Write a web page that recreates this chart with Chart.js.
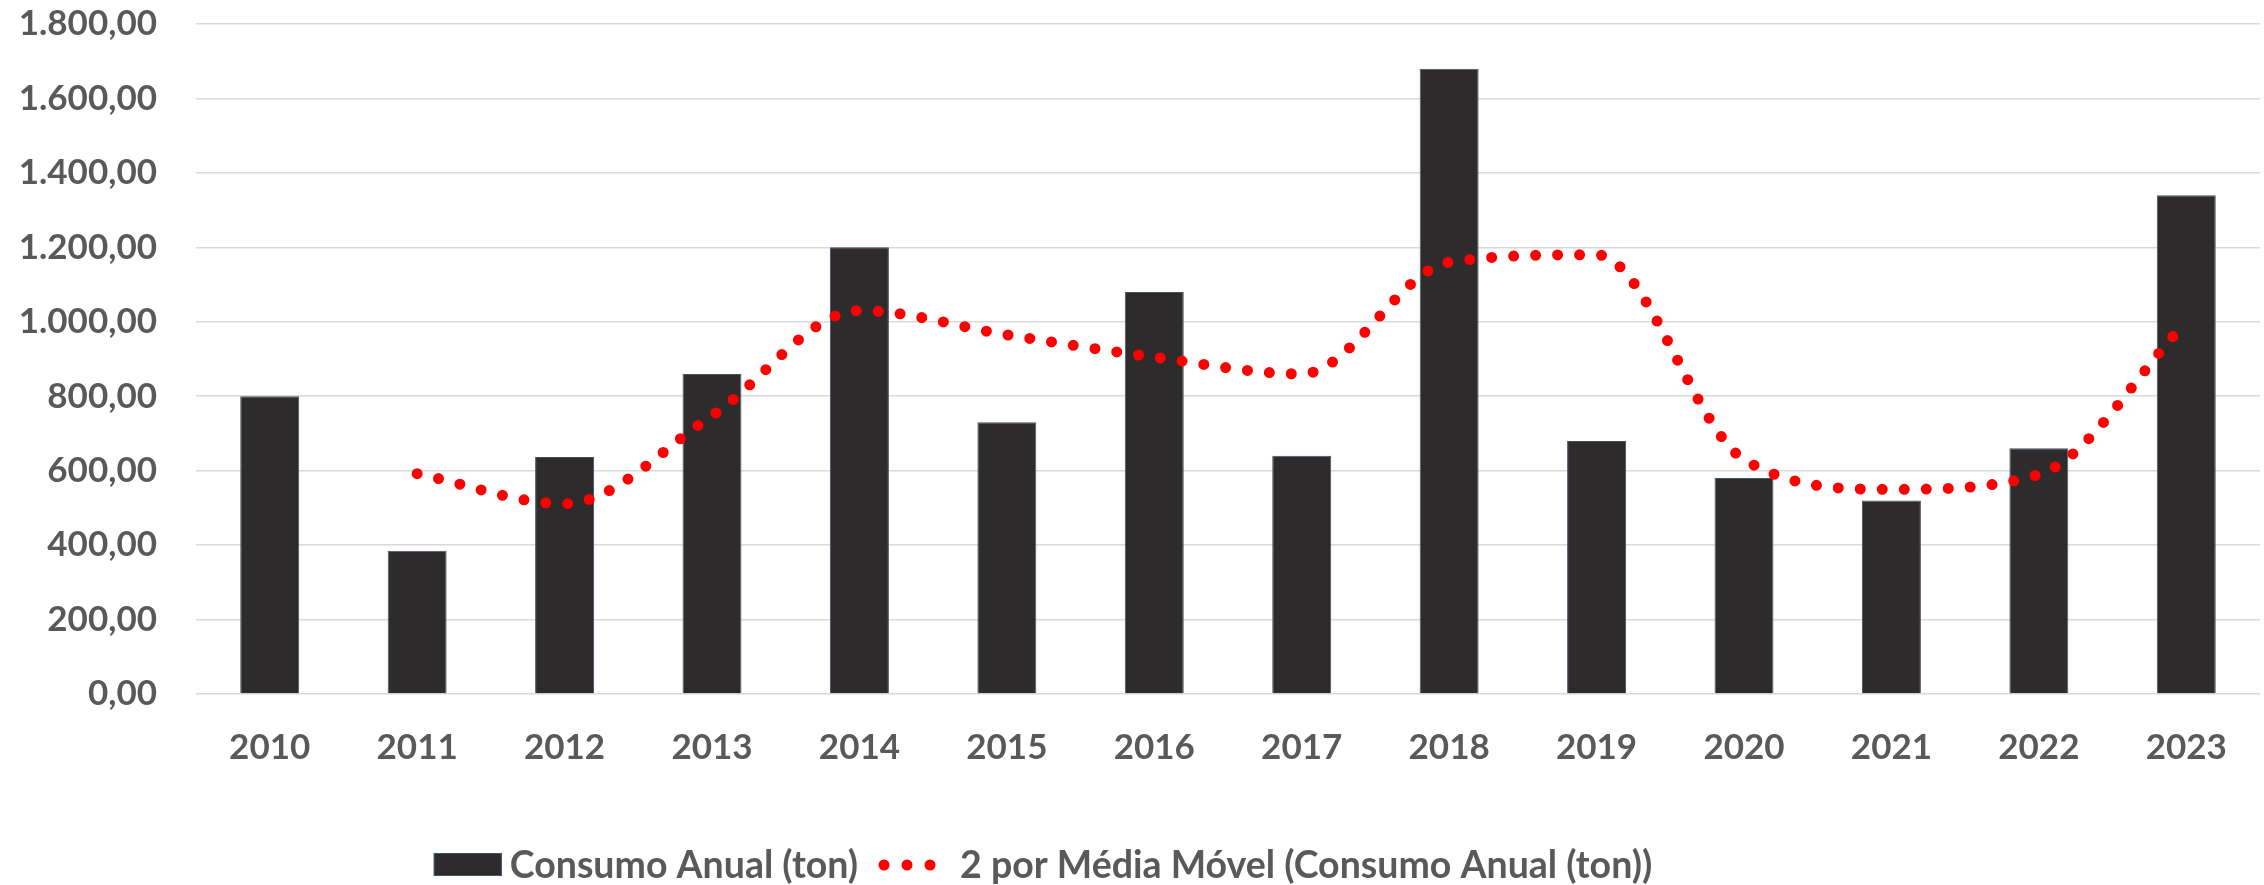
<!DOCTYPE html>
<html>
<head>
<meta charset="utf-8">
<script src="https://cdn.jsdelivr.net/npm/chart.js@4/dist/chart.umd.min.js"></script>
<style>
  html, body { margin: 0; padding: 0; background: #fff; }
  #wrap { width: 2264px; height: 885px; }
</style>
</head>
<body>
<div id="wrap"><canvas id="grafico" width="2264" height="885"></canvas></div>
<script>
// dados
const anos = ['2010', '2011', '2012', '2013', '2014', '2015', '2016', '2017', '2018', '2019', '2020', '2021', '2022', '2023'];
const consumoAnual = [800, 385, 637, 860, 1200, 730, 1080, 640, 1680, 680, 580, 520, 660, 1340];
const mediaMovel = [null, 592, 511, 748, 1030, 965, 905, 860, 1160, 1180, 630, 550, 590, 1000];
const rotulos = ['Consumo Anual (ton)', '2 por Média Móvel (Consumo Anual (ton))'];

const corTexto = '#595959';
const fonte = 'Lato, "Open Sans", sans-serif';

// 1800 -> "1.800,00"
function formataBR(v) {
    const partes = Number(v).toFixed(2).split('.');
    const inteiro = partes[0].replace(/\B(?=(\d{3})+(?!\d))/g, '.');
    return inteiro + ',' + partes[1];
}

// legenda desenhada à mão, igual à do Excel
const legendaExcel = {
    id: 'legendaExcel',
    afterDraw(chart) {
        const ctx = chart.ctx;
        const barras = chart.data.datasets.find(d => d.type === 'bar');
        const linha = chart.data.datasets.find(d => d.type === 'line');
        ctx.save();
        ctx.font = 'bold 37.5px ' + fonte;
        ctx.textBaseline = 'middle';
        const y = 865;
        const caixaW = 68, gap1 = 8, gap2 = 26, pontosW = 46, gap3 = 30;
        const w1 = ctx.measureText(barras.label).width;
        const w2 = ctx.measureText(linha.label).width;
        const total = caixaW + gap1 + w1 + gap2 + pontosW + gap3 + w2;
        let x = 1043 - total / 2;

        ctx.fillStyle = barras.backgroundColor;
        ctx.fillRect(x, y - 12, caixaW, 23);
        ctx.strokeStyle = barras.borderColor;
        ctx.lineWidth = 1;
        ctx.strokeRect(x + 0.5, y - 11.5, caixaW - 1, 22);
        x += caixaW + gap1;

        ctx.fillStyle = corTexto;
        ctx.fillText(barras.label, x, y + 1);
        x += w1 + gap2;

        ctx.fillStyle = linha.borderColor;
        for (let i = 0; i < 3; i++) {
            ctx.beginPath();
            ctx.arc(x + i * 23, y, 5.5, 0, Math.PI * 2);
            ctx.fill();
        }
        x += pontosW + gap3;

        ctx.fillStyle = corTexto;
        ctx.fillText(linha.label, x, y + 1);
        ctx.restore();
    }
};

new Chart(document.getElementById('grafico'), {
    data: {
        labels: anos,
        datasets: [
            {
                type: 'line',
                label: rotulos[1],
                data: mediaMovel,
                borderColor: '#ff0000',
                borderWidth: 11,
                borderDash: [0, 22],
                borderCapStyle: 'round',
                cubicInterpolationMode: 'monotone',
                pointRadius: 0,
                fill: false,
                order: 0
            },
            {
                type: 'bar',
                label: rotulos[0],
                data: consumoAnual,
                backgroundColor: '#2d2b2c',
                borderColor: '#44546a',
                borderWidth: 1,
                categoryPercentage: 1,
                barPercentage: 0.4,
                order: 1
            }
        ]
    },
    options: {
        responsive: false,
        animation: false,
        devicePixelRatio: 1,
        layout: { padding: { top: 24, right: 4, bottom: 0, left: 0 } },
        plugins: {
            legend: { display: false },
            tooltip: { enabled: false }
        },
        scales: {
            x: {
                grid: { display: false },
                border: { display: false },
                ticks: {
                    color: corTexto,
                    font: { family: fonte, size: 35, weight: 'bold' },
                    padding: 25,
                    maxRotation: 0
                },
                afterFit(scale) { scale.height = 191; }
            },
            y: {
                min: 0,
                max: 1800,
                ticks: {
                    stepSize: 200,
                    color: corTexto,
                    font: { family: fonte, size: 35, weight: 'bold' },
                    padding: 39,
                    callback: v => formataBR(v)
                },
                grid: { color: '#d9d9d9', lineWidth: 1.5, drawTicks: false },
                border: { display: false },
                afterFit(scale) {
                    scale.width = 196;
                    scale.paddingTop = 0;
                    scale.paddingBottom = 0;
                }
            }
        }
    },
    plugins: [legendaExcel]
});
</script>
</body>
</html>
